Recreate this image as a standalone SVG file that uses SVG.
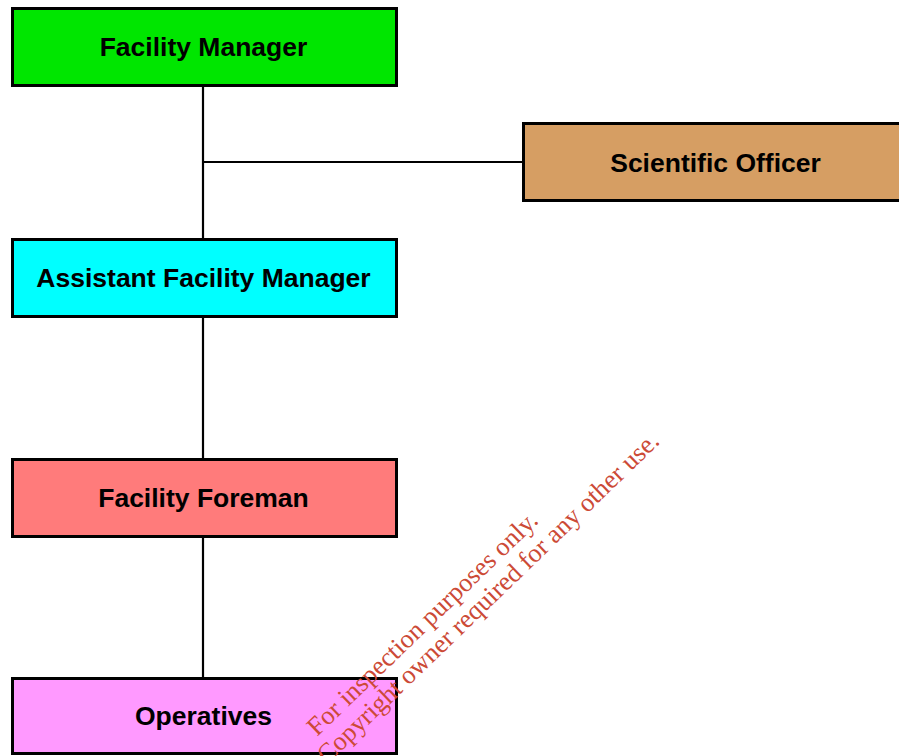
<svg xmlns="http://www.w3.org/2000/svg" width="899" height="756" viewBox="0 0 899 756">
  <style>
    .box { stroke: #000; stroke-width: 3; }
    .label { font-family: "Liberation Sans", Arial, sans-serif; font-weight: bold; font-size: 26.5px; fill: #000; text-anchor: middle; }
    .conn { stroke: #000; stroke-width: 2.2; fill: none; }
    .mark { font-family: "Liberation Serif", "Times New Roman", serif; font-size: 26.3px; fill: #cc4a36; }
  </style>
  <rect width="899" height="756" fill="#fff"/>

  <g id="connectors">
    <line class="conn" x1="203" y1="86" x2="203" y2="240"/>
    <line class="conn" x1="203" y1="162" x2="524" y2="162"/>
    <line class="conn" x1="203" y1="316" x2="203" y2="460"/>
    <line class="conn" x1="203" y1="536" x2="203" y2="679"/>
  </g>

  <g id="facility-manager">
    <rect class="box" x="12.5" y="8.5" width="384" height="77" fill="#00e600"/>
    <text class="label" x="203.5" y="56">Facility Manager</text>
  </g>

  <g id="scientific-officer">
    <rect class="box" x="523.5" y="123.5" width="400" height="77" fill="#d69e63"/>
    <text class="label" x="715.5" y="171.5">Scientific Officer</text>
  </g>

  <g id="assistant-facility-manager">
    <rect class="box" x="12.5" y="239.5" width="384" height="77" fill="#00ffff"/>
    <text class="label" x="203.5" y="287">Assistant Facility Manager</text>
  </g>

  <g id="facility-foreman">
    <rect class="box" x="12.5" y="459.5" width="384" height="77" fill="#ff7b7b"/>
    <text class="label" x="203.5" y="506.5">Facility Foreman</text>
  </g>

  <g id="operatives">
    <rect class="box" x="12.5" y="678.5" width="384" height="75" fill="#ff99ff"/>
    <text class="label" x="203.5" y="725">Operatives</text>
  </g>

  <g id="watermark" transform="translate(317 737) rotate(-44)">
    <text class="mark" x="0" y="0">For inspection purposes only.</text>
    <text class="mark" x="-12" y="27">Copyright owner required for any other use.</text>
  </g>
</svg>
